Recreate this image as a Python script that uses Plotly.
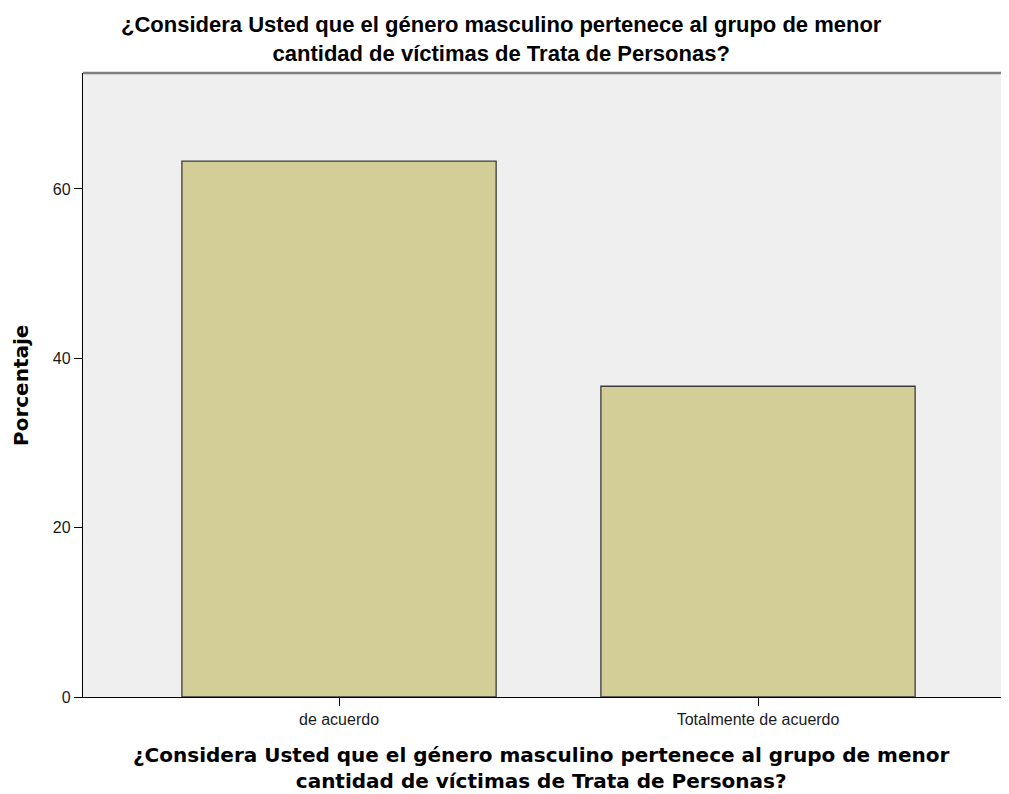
import plotly.graph_objects as go

categories = ["de acuerdo", "Totalmente de acuerdo"]
values = [63.3, 36.7]
y_ticks = [0, 20, 40, 60]
title_lines = ["¿Considera Usted que el género masculino pertenece al grupo de menor",
               "cantidad de víctimas de Trata de Personas?"]
y_title = "Porcentaje"

W, H = 1001, 786
L, R, T, B = 75, 0, 65, 97
PW, PH = W - L - R, H - T - B

fig = go.Figure(go.Bar(
    x=categories, y=values, width=0.75,
    marker=dict(color="#d3ce97", line=dict(color="#3c3c3c", width=1.3)),
))

fig.update_layout(
    width=W, height=H,
    margin=dict(l=L, r=R, t=T, b=B),
    paper_bgcolor="white", plot_bgcolor="#efefef",
    showlegend=False,
)
fig.update_xaxes(
    type="category", range=[-0.611, 1.599],
    showline=True, linecolor="black", linewidth=1.3,
    ticks="outside", ticklen=8, tickcolor="black", tickwidth=1.3,
    tickfont=dict(family="Liberation Sans, Arial", size=16, color="#1a1a1a"),
    showgrid=False, zeroline=False,
)
fig.update_yaxes(
    range=[0, 73.7], tickvals=y_ticks,
    showline=True, linecolor="black", linewidth=1.3,
    ticks="outside", ticklen=8, tickcolor="black", tickwidth=1.3,
    tickfont=dict(family="Liberation Sans, Arial", size=16, color="#1a1a1a"),
    showgrid=False, zeroline=False,
)
fig.add_shape(type="line", xref="paper", yref="paper", x0=0, x1=1, y0=1, y1=1,
              line=dict(color="#808080", width=2.5))

title_font = dict(family="Liberation Sans, Arial", size=22, color="black")
axis_font = dict(family="DejaVu Sans, Verdana", size=20, color="black")
two_line = "<b>" + "<br>".join(title_lines) + "</b>"

# chart title
fig.add_annotation(text=two_line, xref="paper", yref="paper",
                   x=(501.5 - 83) / PW, y=1 + (73 - 39) / PH,
                   xanchor="center", yanchor="middle", showarrow=False, font=title_font)
# x-axis title
fig.add_annotation(text=two_line, xref="paper", yref="paper",
                   x=0.495, y=-(768 - 697) / PH,
                   xanchor="center", yanchor="middle", showarrow=False, font=axis_font)
# y-axis title
fig.add_annotation(text="<b>" + y_title + "</b>", xref="paper", yref="paper",
                   x=(21 - 83) / PW, y=(697 - 385) / PH, textangle=-90,
                   xanchor="center", yanchor="middle", showarrow=False, font=axis_font)

fig.write_html("out.html")
